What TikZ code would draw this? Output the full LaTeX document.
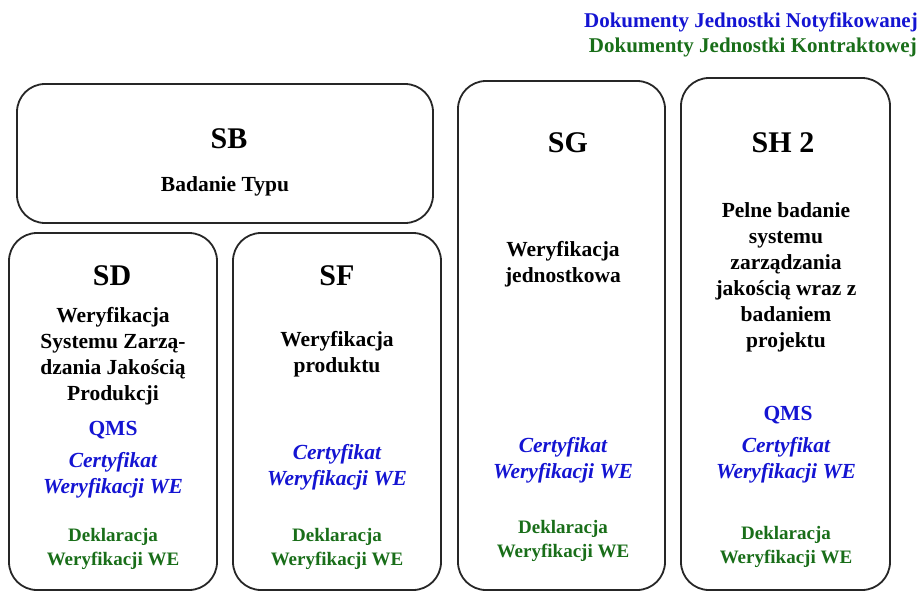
\documentclass[tikz,border=0pt]{standalone}
\usepackage{fontspec}
\setmainfont{Liberation Serif}
\definecolor{nbblue}{RGB}{20,20,210}
\definecolor{kgreen}{RGB}{25,110,25}
\newcommand\ttlfont{\fontsize{30}{34}\selectfont\bfseries}
\newcommand\bodyfont{\fontsize{21.5}{26}\selectfont\bfseries}
\newcommand\certfont{\fontsize{21.5}{25.5}\selectfont\bfseries\itshape}
\newcommand\deklfont{\fontsize{19}{23.5}\selectfont\bfseries}
\newcommand\hdrfont{\fontsize{21}{25}\selectfont\bfseries}
\begin{document}
\begin{tikzpicture}[x=1pt,y=-1pt,
  box/.style={draw=black!85,line width=1.8pt,rounded corners=28pt,inner sep=0pt},
  ttl/.style={anchor=base,inner sep=0pt,font=\ttlfont},
  body/.style={anchor=base,inner sep=0pt,align=center,font=\bodyfont},
  qms/.style={anchor=base,inner sep=0pt,font=\bodyfont,text=nbblue},
  cert/.style={anchor=base,inner sep=0pt,align=center,font=\certfont,text=nbblue},
  dekl/.style={anchor=base,inner sep=0pt,align=center,font=\deklfont,text=kgreen},
  hdr/.style={anchor=base east,inner sep=0pt,font=\hdrfont}]
\useasboundingbox (0,0) rectangle (919,592);
% boxes
\node[box,minimum width=416pt,minimum height=139pt] (sb) at (225,153.5) {};
\node[box,minimum width=208pt,minimum height=357pt] (sd) at (113,411.5) {};
\node[box,minimum width=208pt,minimum height=357pt] (sf) at (337,411.5) {};
\node[box,minimum width=207pt,minimum height=509pt] (sg) at (561.5,335.5) {};
\node[box,minimum width=209pt,minimum height=512pt] (sh) at (785.5,334) {};
% header
\node[hdr,text=nbblue] (h1) at (918,27) {Dokumenty Jednostki Notyfikowanej};
\node[hdr,text=kgreen] (h2) at (917,52) {Dokumenty Jednostki Kontraktowej};
% SB
\node[ttl] (sbt) at (229,148) {SB};
\node[body] (sbb) at (225,191) {Badanie Typu};
% SD
\node[ttl] (sdt) at (112,285) {SD};
\node[body] (sdb) at (113,400) {Weryfikacja\\Systemu Zarzą-\\dzania Jakością\\Produkcji};
\node[qms] (sdq) at (113,435) {QMS};
\node[cert] (sdc) at (113,493) {Certyfikat\\Weryfikacji WE};
\node[dekl] (sdd) at (113,565) {Deklaracja\\Weryfikacji WE};
% SF
\node[ttl] (sft) at (337,285) {SF};
\node[body] (sfb) at (337,372) {Weryfikacja\\produktu};
\node[cert] (sfc) at (337,485) {Certyfikat\\Weryfikacji WE};
\node[dekl] (sfd) at (337,565) {Deklaracja\\Weryfikacji WE};
% SG
\node[ttl] (sgt) at (568,152) {SG};
\node[body] (sgb) at (563,282) {Weryfikacja\\jednostkowa};
\node[cert] (sgc) at (563,478) {Certyfikat\\Weryfikacji WE};
\node[dekl] (sgd) at (563,557) {Deklaracja\\Weryfikacji WE};
% SH 2
\node[ttl] (sht) at (783,152) {SH 2};
\node[body] (shb) at (786,347) {Pelne badanie\\systemu\\zarządzania\\jakością wraz z\\badaniem\\projektu};
\node[qms] (shq) at (788,420) {QMS};
\node[cert] (shc) at (786,478) {Certyfikat\\Weryfikacji WE};
\node[dekl] (shd) at (786,563) {Deklaracja\\Weryfikacji WE};
\end{tikzpicture}
\end{document}
